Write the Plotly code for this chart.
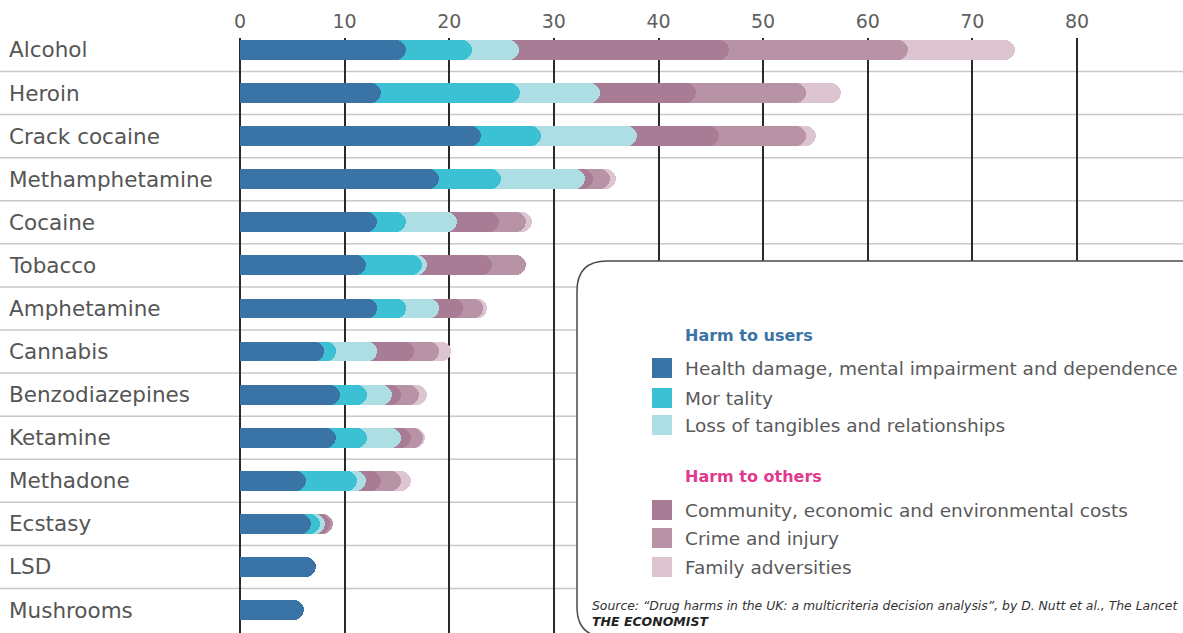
import numpy as np
import plotly.graph_objects as go

drugs = ["Alcohol", "Heroin", "Crack cocaine", "Methamphetamine", "Cocaine", "Tobacco",
         "Amphetamine", "Cannabis", "Benzodiazepines", "Ketamine", "Methadone",
         "Ecstasy", "LSD", "Mushrooms"]
health = [15.9, 13.5, 23.0, 19.0, 13.1, 12.0, 13.1, 8.0, 9.6, 9.2, 6.3, 6.8, 7.3, 6.1]
mortality = [6.3, 13.3, 5.8, 5.9, 2.8, 5.4, 2.8, 1.2, 2.5, 2.9, 4.9, 0.8, 0, 0]
loss = [4.5, 7.6, 9.1, 8.1, 4.8, 0.5, 3.1, 3.9, 2.4, 3.3, 0.8, 0.5, 0, 0]
community = [20.0, 9.2, 7.9, 0.7, 4.1, 6.2, 2.3, 3.5, 0.9, 0.9, 1.5, 0.5, 0, 0]
crime = [17.1, 10.5, 8.3, 1.7, 2.5, 3.2, 1.9, 2.4, 1.7, 1.2, 1.9, 0.3, 0, 0]
family = [10.3, 3.3, 1.0, 0.5, 0.6, 0, 0.4, 1.2, 0.8, 0.2, 0.9, 0, 0, 0]
x_ticks = [0, 10, 20, 30, 40, 50, 60, 70, 80]

series_names = ["Health damage, mental impairment and dependence", "Mor tality",
                "Loss of tangibles and relationships",
                "Community, economic and environmental costs", "Crime and injury",
                "Family adversities"]
series_values = [health, mortality, loss, community, crime, family]
colors = ["#3A73A5", "#3CC1D4", "#ADDEE3", "#A97C96", "#B892A5", "#DCC5D1"]

# page geometry (px)
W_PAGE, H_PAGE = 1183, 633
M_L, M_R, M_T, M_B = 240, 0, 38, 0
PW = W_PAGE - M_L - M_R
PH = H_PAGE - M_T - M_B

def px(x):
    return (x - M_L) / PW

def py(y):
    return (H_PAGE - M_B - y) / PH

cum = np.cumsum(np.array(series_values), axis=0)
ypos = list(range(len(drugs)))
Y_RANGE = [13.533, -0.278]

fig = go.Figure()
order = list(range(len(series_values) - 1, -1, -1))
axis_layout = {}
for n, k in enumerate(order):
    yname = "y" if n == 0 else f"y{n + 1}"
    fig.add_trace(go.Bar(
        x=cum[k], y=ypos, orientation="h", width=0.46, yaxis=yname,
        marker=dict(color=colors[k], line=dict(width=0), cornerradius=10),
        name=series_names[k], showlegend=False,
        customdata=np.array(series_values[k]),
        hovertemplate="%{customdata}<extra>" + series_names[k] + "</extra>",
    ))
    if n > 0:
        axis_layout[f"yaxis{n + 1}"] = dict(range=Y_RANGE, overlaying="y", visible=False,
                                            fixedrange=True)

shapes = []
for i in range(len(drugs) - 1):
    shapes.append(dict(type="line", xref="paper", yref="y", x0=px(0), x1=1,
                       y0=i + 0.5, y1=i + 0.5, layer="below",
                       line=dict(color="#C8C8C8", width=1.5)))

# legend box with rounded corners
L, T, R, B, r = 577, 261, 1230, 637, 30
path = (f"M {px(R)},{py(T)} L {px(L + r)},{py(T)} Q {px(L)},{py(T)} {px(L)},{py(T + r)} "
        f"L {px(L)},{py(B - r)} Q {px(L)},{py(B)} {px(L + r)},{py(B)} L {px(R)},{py(B)} Z")
shapes.append(dict(type="path", xref="paper", yref="paper", path=path, layer="above",
                   fillcolor="white", line=dict(color="#4A4A4A", width=1.5)))

annotations = []
for i, d in enumerate(drugs):
    annotations.append(dict(text=d, xref="paper", yref="y", x=px(7), y=i,
                            xanchor="left", yanchor="middle", showarrow=False,
                            font=dict(family="DejaVu Sans", size=21.5, color="#555555")))

item_y = [368, 398, 425, 510, 538, 567]
for k, (nm, yy) in enumerate(zip(series_names, item_y)):
    shapes.append(dict(type="rect", xref="paper", yref="paper", layer="above",
                       x0=px(652), x1=px(672), y0=py(yy + 10), y1=py(yy - 10),
                       fillcolor=colors[k], line=dict(width=0)))
    annotations.append(dict(text=nm, xref="paper", yref="paper", x=px(683), y=py(yy),
                            xanchor="left", yanchor="middle", showarrow=False,
                            font=dict(family="DejaVu Sans", size=18.5, color="#5A5A5A")))

annotations.append(dict(text="<b>Harm to users</b>", xref="paper", yref="paper",
                        x=px(683), y=py(335), xanchor="left", yanchor="middle",
                        showarrow=False,
                        font=dict(family="DejaVu Sans", size=16, color="#3A73A5")))
annotations.append(dict(text="<b>Harm to others</b>", xref="paper", yref="paper",
                        x=px(683), y=py(476), xanchor="left", yanchor="middle",
                        showarrow=False,
                        font=dict(family="DejaVu Sans", size=16, color="#E2398E")))
annotations.append(dict(
    text="<i>Source: “Drug harms in the UK: a multicriteria decision analysis”, by D. Nutt et al., The Lancet</i>",
    xref="paper", yref="paper", x=px(590), y=py(605), xanchor="left", yanchor="middle",
    showarrow=False, font=dict(family="DejaVu Sans", size=12.4, color="#333333")))
annotations.append(dict(
    text="<b><i>THE ECONOMIST</i></b>",
    xref="paper", yref="paper", x=px(590), y=py(621), xanchor="left", yanchor="middle",
    showarrow=False, font=dict(family="DejaVu Sans", size=12.5, color="#222222")))

fig.update_layout(
    width=W_PAGE, height=H_PAGE,
    margin=dict(l=M_L, r=M_R, t=M_T, b=M_B, pad=0),
    paper_bgcolor="white", plot_bgcolor="white",
    barmode="overlay", bargap=0,
    xaxis=dict(side="top", range=[0, 80 * PW / (1077 - M_L)], tickvals=x_ticks,
               showgrid=True, gridcolor="#2A2A2A", gridwidth=2,
               zeroline=True, zerolinecolor="#2A2A2A", zerolinewidth=2,
               showline=False, ticks="", ticklabelstandoff=5,
               tickfont=dict(family="DejaVu Sans", size=19, color="#606060"),
               fixedrange=True),
    yaxis=dict(range=Y_RANGE, showgrid=False, zeroline=False,
               showticklabels=False, showline=False, ticks="", fixedrange=True),
    shapes=shapes, annotations=annotations,
    showlegend=False,
    **axis_layout,
)

fig.write_html("out.html", config={"displayModeBar": False},
               post_script="document.body.style.margin='0';document.body.style.padding='0';")
